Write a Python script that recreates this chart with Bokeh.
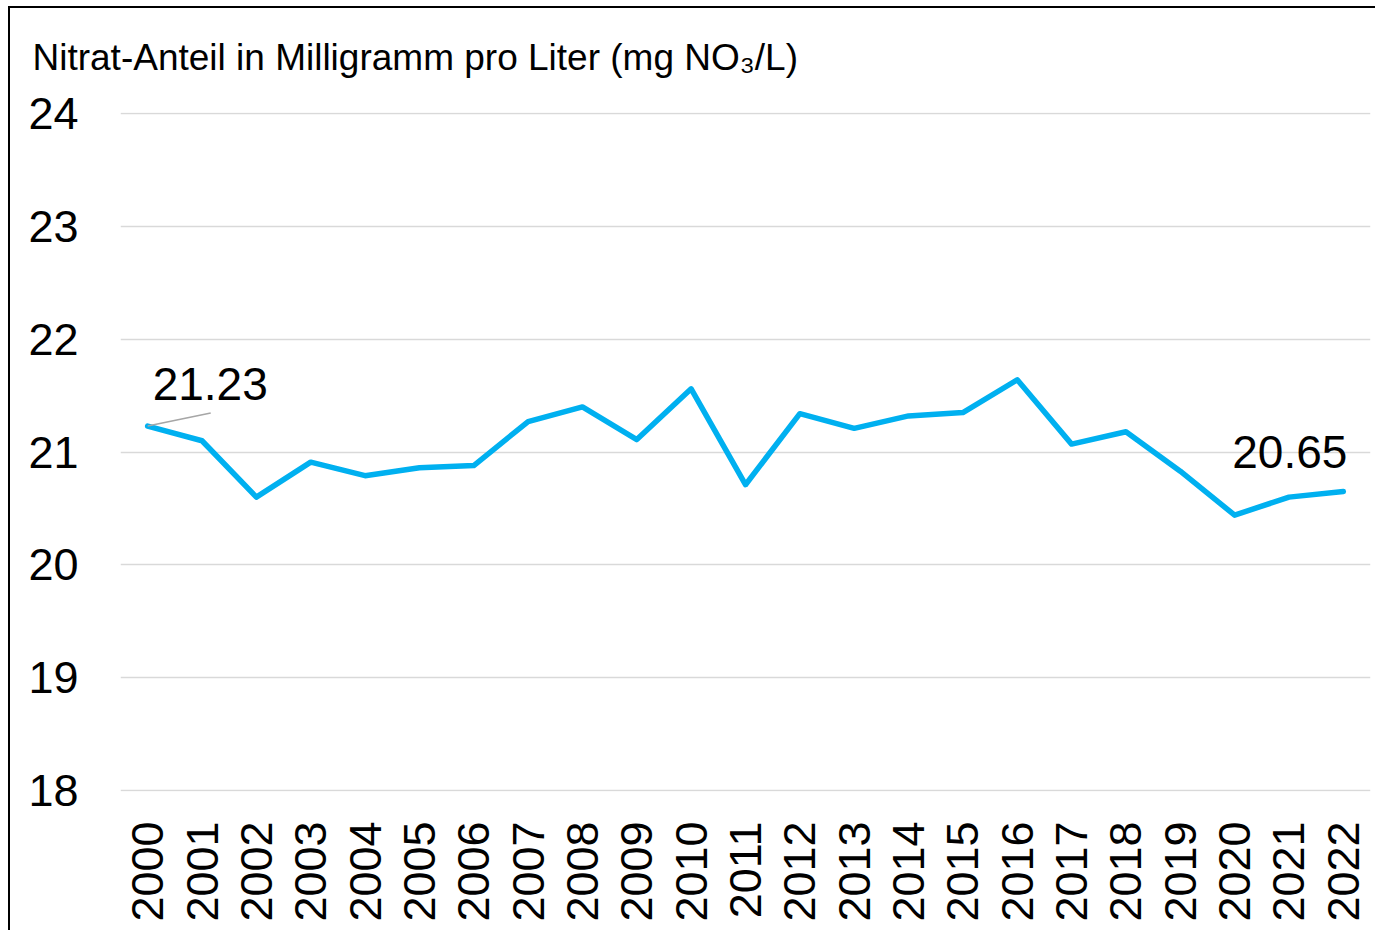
import math
from bokeh.plotting import figure
from bokeh.models import ColumnDataSource, FactorRange, Range1d, FixedTicker
from bokeh.transform import dodge
from bokeh.embed import file_html
from bokeh.resources import INLINE
from bokeh.core.properties import value

years = ["2000", "2001", "2002", "2003", "2004", "2005", "2006", "2007", "2008", "2009", "2010",
         "2011", "2012", "2013", "2014", "2015", "2016", "2017", "2018", "2019", "2020", "2021", "2022"]
nitrat = [21.23, 21.10, 20.60, 20.91, 20.79, 20.86, 20.88, 21.27, 21.40, 21.11, 21.56,
          20.71, 21.34, 21.21, 21.32, 21.35, 21.64, 21.07, 21.18, 20.83, 20.44, 20.60, 20.65]
y_ticks = [18, 19, 20, 21, 22, 23, 24]
title_text = "Nitrat-Anteil in Milligramm pro Liter (mg NO\u2083/L)"

FONT = "Liberation Sans"

p = figure(width=1375, height=930,
           x_range=FactorRange(factors=years, range_padding=0),
           y_range=Range1d(17.99, 24.01),
           output_backend="svg", toolbar_location=None,
           min_border_left=120, min_border_right=5,
           min_border_top=112, min_border_bottom=139)
p.outline_line_color = None
p.background_fill_color = "white"
p.border_fill_color = None
# outer chart border (left and top edges visible), drawn behind the transparent canvas
p.styles = {
    "background-color": "white",
    "background-image": "linear-gradient(#000000, #000000), linear-gradient(#000000, #000000)",
    "background-size": "2px 100%, 100% 2px",
    "background-position": "8px 6px, 8px 6px",
    "background-repeat": "no-repeat",
}

p.title.text = title_text
p.title.align = "left"
p.title.offset = -88
p.title.standoff = 69
p.title.text_font = FONT
p.title.text_font_size = "37px"
p.title.text_font_style = "normal"
p.title.text_color = "#000000"

p.xgrid.grid_line_color = None
p.ygrid.grid_line_color = "#d9d9d9"
p.ygrid.grid_line_width = 1.5

p.yaxis.ticker = FixedTicker(ticks=y_ticks)
for ax in (p.xaxis[0], p.yaxis[0]):
    ax.axis_line_color = None
    ax.major_tick_line_color = None
    ax.minor_tick_line_color = None
    ax.major_label_text_font = FONT
    ax.major_label_text_font_size = "45px"
    ax.major_label_text_color = "#000000"
p.yaxis.major_label_standoff = 36
p.xaxis.major_label_standoff = 24
p.xaxis.major_label_orientation = math.pi / 2

src = ColumnDataSource(data=dict(year=years, val=nitrat))
p.line(x="year", y="val", source=src, line_color="#00B0F0", line_width=5.5, line_join="round",
       line_cap="round")

# leader line for first label
lead = ColumnDataSource(data=dict(year=[years[0]], val=[nitrat[0]]))
p.segment(x0="year", y0="val",
          x1=dodge("year", 1.16, range=p.x_range), y1=dodge("val", 0.115),
          source=lead, line_color="#A6A6A6", line_width=1.5)

lbl = ColumnDataSource(data=dict(
    year=[years[0], years[-1]],
    val=[nitrat[0], nitrat[-1]],
    txt=[f"{nitrat[0]:.2f}", f"{nitrat[-1]:.2f}"],
    align=["left", "right"],
    xo=[5, 4],
    yo=[-42, -39],
))
p.text(x="year", y="val", text="txt", source=lbl, x_offset="xo", y_offset="yo",
       text_align="align", text_baseline="alphabetic",
       text_font=value(FONT), text_font_size="46px", text_color="#000000")

open("out.html", "w").write(file_html(p, INLINE))
